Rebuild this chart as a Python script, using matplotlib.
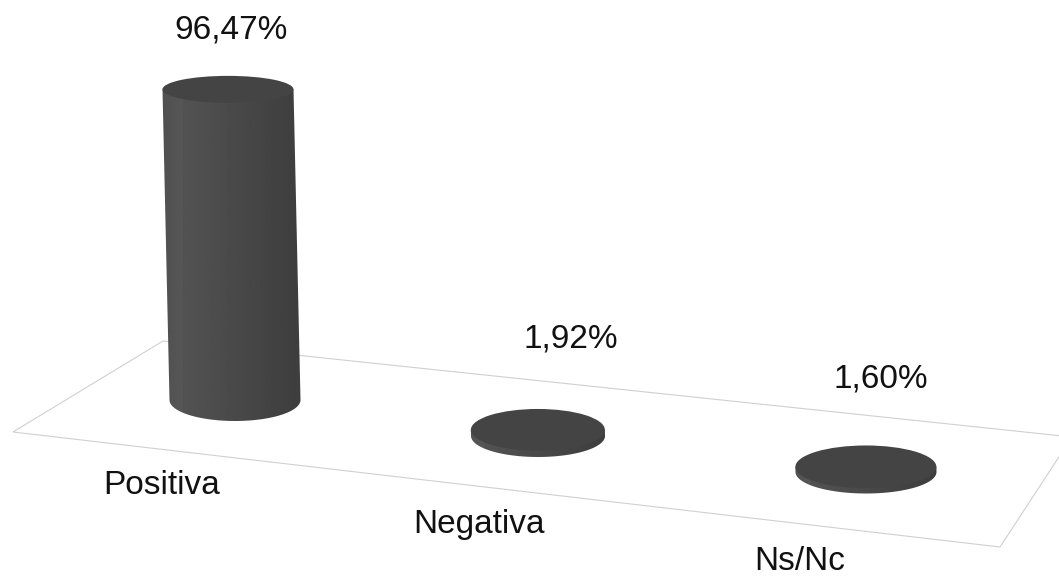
# fake 3D cylinders on a tilted floor, drawn in pixel-like axes
import numpy as np
import matplotlib
matplotlib.use("Agg")
import matplotlib.pyplot as plt
from matplotlib.patches import Ellipse, Polygon

plt.rcParams["font.family"] = ["Liberation Sans", "DejaVu Sans"]

categories = ["Positiva", "Negativa", "Ns/Nc"]
values = [96.47, 1.92, 1.60]
value_labels = ["96,47%", "1,92%", "1,60%"]

# layout, all in pixels of the picture
px_per_unit = 3.22
lean_per_unit = 7 / 96.47       # top drifts left with height
squash_per_unit = 7.5 / 96.47   # top ellipse gets flatter with height
base_x = [235, 538, 866]
base_y = [400, 436, 472]
base_rx = [65.5, 67, 70.5]
base_ry = [21, 21, 21.5]
value_xy = [(231, 30), (571, 339), (881, 379)]
cat_xy = [(162, 485), (479, 525), (800, 561)]

fig = plt.figure(figsize=(10.59, 5.77), dpi=100)
ax = fig.add_axes([0, 0, 1, 1])
ax.set_xlim(0, 1059)
ax.set_ylim(577, 0)
ax.axis("off")

# floor
ax.add_patch(Polygon([(13, 432), (163, 341), (1072, 437), (1000, 547)],
                     closed=True, fc="white", ec="#d0d0d0", lw=0.8, zorder=1))

shade = np.linspace(0.34, 0.24, 256).reshape(1, -1)
shade[0, :40] = np.linspace(0.31, 0.34, 40)

for i, v in enumerate(values):
    h = v * px_per_unit
    bx, by = base_x[i], base_y[i]
    tx, ty = bx - v * lean_per_unit, by - h
    rx, ry = base_rx[i], base_ry[i]
    top_ry = ry - v * squash_per_unit

    # wall: left edge, lower half of the base ellipse, right edge
    t = np.linspace(np.pi, 0, 60)
    arc = np.column_stack([bx + rx * np.cos(t), by + ry * np.sin(t)])
    pts = np.vstack([[(tx - rx, ty)], arc, [(tx + rx, ty)]])
    wall = Polygon(pts, closed=True, fc="none", ec="none", zorder=2)
    ax.add_patch(wall)
    im = ax.imshow(shade, cmap="gray", vmin=0, vmax=1, aspect="auto", zorder=3,
                   extent=(bx - rx - 10, bx + rx + 2, by + ry + 2, ty - 2))
    im.set_clip_path(wall)

    ax.add_patch(Ellipse((tx, ty), 2 * rx, 2 * top_ry, fc="#444444", ec="none", zorder=4))

    ax.text(*value_xy[i], value_labels[i], fontsize=24, color="#111111",
            ha="center", va="center", zorder=5)
    ax.text(*cat_xy[i], categories[i], fontsize=24, color="#111111",
            ha="center", va="center", zorder=5)

# imshow resets the limits
ax.set_xlim(0, 1059)
ax.set_ylim(577, 0)

fig.savefig("out.png", dpi=100)
